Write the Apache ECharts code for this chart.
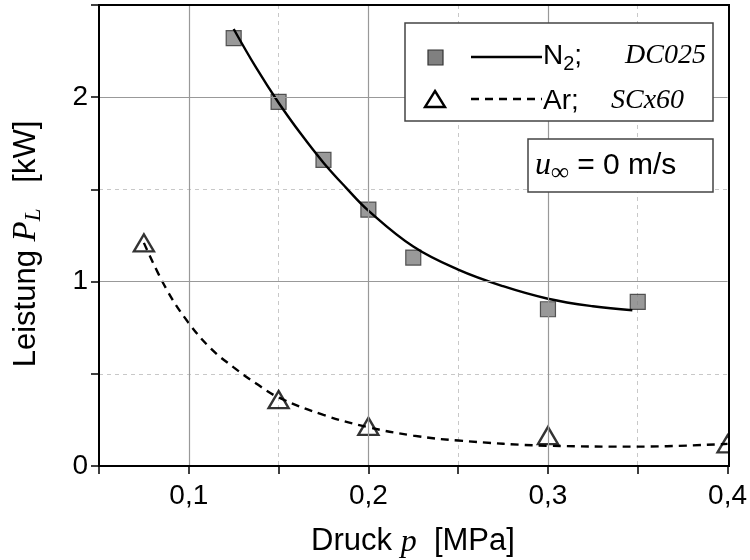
<!DOCTYPE html>
<html>
<head>
<meta charset="utf-8">
<script src="https://cdn.jsdelivr.net/npm/echarts@6/dist/echarts.min.js"></script>
<style>
  html, body { margin: 0; padding: 0; background: #fff; }
  #chart { width: 750px; height: 560px; }
</style>
</head>
<body>
<div id="chart"></div>
<script>
// Measured points: N2 (DC025) and Ar (SCx60)
const n2Pressure = [0.125, 0.15, 0.175, 0.2, 0.225, 0.3, 0.35];
const n2Power    = [2.32, 1.975, 1.66, 1.39, 1.13, 0.85, 0.89];
const arPressure = [0.075, 0.15, 0.2, 0.3, 0.4];
const arPower    = [1.21, 0.36, 0.215, 0.165, 0.12];

// Fit curves
const n2FitPressure = [0.125, 0.1375, 0.15, 0.1625, 0.175, 0.1875, 0.2, 0.225, 0.25, 0.275, 0.3, 0.325, 0.347];
const n2FitPower    = [2.37, 2.16, 1.97, 1.80, 1.645, 1.51, 1.385, 1.19, 1.065, 0.975, 0.907, 0.866, 0.845];
const arFitPressure = [0.075, 0.0875, 0.1, 0.1125, 0.125, 0.1375, 0.15, 0.175, 0.2, 0.225, 0.25, 0.3, 0.35, 0.4];
const arFitPower    = [1.21, 0.96, 0.775, 0.635, 0.535, 0.447, 0.372, 0.277, 0.21, 0.165, 0.138, 0.11, 0.105, 0.12];

// Axis ticks and solid major grid lines
const xTickLabels = { '0.1': '0,1', '0.2': '0,2', '0.3': '0,3', '0.4': '0,4' };
const yTickLabels = { '0': '0', '1': '1', '2': '2' };
const xMajorGrid = [0.1, 0.2, 0.3];
const yMajorGrid = [1, 2];

const SANS = 'Liberation Sans, Arial, sans-serif';
const SERIF = 'Liberation Serif, Times New Roman, serif';

const zip = (xs, ys) => xs.map((x, i) => [x, ys[i]]);
const key = v => String(Math.round(v * 1000) / 1000);

const chart = echarts.init(document.getElementById('chart'), null, { renderer: 'canvas' });

const option = {
  animation: false,
  backgroundColor: '#fff',
  grid: {
    left: 99, right: 21, top: 5, bottom: 94,
    show: false
  },
  xAxis: {
    type: 'value', min: 0.05, max: 0.4, interval: 0.05,
    axisLine: { show: true, onZero: false, lineStyle: { color: '#000', width: 2 } },
    axisTick: { show: true, inside: false, length: 8, lineStyle: { color: '#000', width: 1.5 } },
    axisLabel: {
      color: '#000', fontFamily: SANS, fontSize: 28, margin: 16,
      formatter: v => xTickLabels[key(v)] || ''
    },
    splitLine: { show: true, showMinLine: false, showMaxLine: false, lineStyle: { color: '#c8c8c8', width: 1, type: [4, 4] } }
  },
  yAxis: {
    type: 'value', min: 0, max: 2.5, interval: 0.5,
    axisLine: { show: true, lineStyle: { color: '#000', width: 2 } },
    axisTick: { show: true, inside: false, length: 8, lineStyle: { color: '#000', width: 1.5 } },
    axisLabel: {
      color: '#000', fontFamily: SANS, fontSize: 28, margin: 11,
      formatter: v => yTickLabels[key(v)] || ''
    },
    splitLine: { show: true, showMinLine: false, showMaxLine: false, lineStyle: { color: '#c8c8c8', width: 1, type: [4, 4] } }
  },
  series: [
    {
      // solid major grid lines
      type: 'line', data: [], silent: true, z: 1,
      markLine: {
        silent: true, symbol: 'none', animation: false,
        label: { show: false },
        lineStyle: { color: '#999', width: 1.2, type: 'solid' },
        data: xMajorGrid.map(v => ({ xAxis: v })).concat(yMajorGrid.map(v => ({ yAxis: v })))
      }
    },
    {
      name: 'N2 Messung', type: 'scatter', z: 3,
      symbol: 'rect', symbolSize: 15,
      itemStyle: { color: '#808080', borderColor: '#333', borderWidth: 1.2 },
      data: zip(n2Pressure, n2Power)
    },
    {
      name: 'Ar Messung', type: 'scatter', z: 3,
      symbol: 'triangle', symbolSize: [20, 17],
      itemStyle: { color: 'rgba(255,255,255,0)', borderColor: '#000', borderWidth: 2.4 },
      data: zip(arPressure, arPower)
    },
    {
      name: 'N2 Fit', type: 'line', z: 4, smooth: 0.4, showSymbol: false, symbol: 'none',
      lineStyle: { color: '#000', width: 2.4, type: 'solid' },
      data: zip(n2FitPressure, n2FitPower)
    },
    {
      name: 'Ar Fit', type: 'line', z: 4, smooth: 0.4, showSymbol: false, symbol: 'none',
      lineStyle: { color: '#000', width: 2.4, type: [8, 6] },
      data: zip(arFitPressure, arFitPower)
    }
  ],
  graphic: [
    // mask outside the right frame edge, then the plot frame on top
    { type: 'rect', z: 50, silent: true, shape: { x: 730, y: 0, width: 20, height: 470 }, style: { fill: '#fff' } },
    { type: 'rect', z: 55, silent: true, shape: { x: 99, y: 5, width: 630, height: 461 }, style: { fill: 'none', stroke: '#000', lineWidth: 2 } },
    // axis titles
    {
      type: 'text', z: 60, x: 413, y: 541,
      style: {
        text: 'Druck {i|p}  [MPa]', fill: '#000', font: '31px ' + SANS,
        align: 'center', verticalAlign: 'middle',
        rich: { i: { fontFamily: SERIF, fontStyle: 'italic', fontSize: 32, fill: '#000', padding: [4, 0, 0, 0] } }
      }
    },
    {
      type: 'text', z: 60, x: 26, y: 244, rotation: Math.PI / 2,
      style: {
        text: 'Leistung {i|P}{s|L}   [kW]', fill: '#000', font: '31px ' + SANS,
        align: 'center', verticalAlign: 'middle',
        rich: {
          i: { fontFamily: SERIF, fontStyle: 'italic', fontSize: 33, fill: '#000' },
          s: { fontFamily: SERIF, fontStyle: 'italic', fontSize: 23, fill: '#000', padding: [16, 0, 0, 0] }
        }
      }
    },
    // legend box
    { type: 'rect', z: 60, shape: { x: 405, y: 23, width: 308, height: 98 }, style: { fill: '#fff', stroke: '#444', lineWidth: 1.5 } },
    { type: 'rect', z: 61, shape: { x: 428, y: 50, width: 15, height: 15 }, style: { fill: '#808080', stroke: '#333', lineWidth: 1.2 } },
    { type: 'line', z: 61, shape: { x1: 471, y1: 57, x2: 542, y2: 57 }, style: { stroke: '#000', lineWidth: 2.4 } },
    { type: 'polygon', z: 61, shape: { points: [[435, 91], [445, 107], [425, 107]] }, style: { fill: 'none', stroke: '#000', lineWidth: 2.4 } },
    { type: 'line', z: 61, shape: { x1: 471, y1: 99, x2: 542, y2: 99 }, style: { stroke: '#000', lineWidth: 2.4, lineDash: [8, 6] } },
    {
      type: 'text', z: 62, x: 543, y: 56,
      style: {
        text: 'N{sub|2};', fill: '#000', font: '28px ' + SANS,
        align: 'left', verticalAlign: 'middle',
        rich: { sub: { fontFamily: SANS, fontSize: 20, fill: '#000', padding: [16, 0, 0, 0] } }
      }
    },
    {
      type: 'text', z: 62, x: 625, y: 56,
      style: { text: 'DC025', fill: '#000', font: 'italic 28px ' + SERIF, align: 'left', verticalAlign: 'middle' }
    },
    {
      type: 'text', z: 62, x: 543, y: 101,
      style: { text: 'Ar;', fill: '#000', font: '28px ' + SANS, align: 'left', verticalAlign: 'middle' }
    },
    {
      type: 'text', z: 62, x: 611, y: 101,
      style: { text: 'SCx60', fill: '#000', font: 'italic 28px ' + SERIF, align: 'left', verticalAlign: 'middle' }
    },
    // flow velocity box
    { type: 'rect', z: 60, shape: { x: 528, y: 139, width: 185, height: 53 }, style: { fill: '#fff', stroke: '#444', lineWidth: 1.5 } },
    {
      type: 'text', z: 62, x: 535, y: 166,
      style: {
        text: '{u|u}{inf|∞} = 0 m/s', fill: '#000', font: '30px ' + SANS,
        align: 'left', verticalAlign: 'middle',
        rich: {
          u: { fontFamily: SERIF, fontStyle: 'italic', fontSize: 32, fill: '#000' },
          inf: { fontFamily: SERIF, fontStyle: 'italic', fontSize: 25, fill: '#000', padding: [14, 0, 0, 0] }
        }
      }
    }
  ]
};

chart.setOption(option);
</script>
</body>
</html>
